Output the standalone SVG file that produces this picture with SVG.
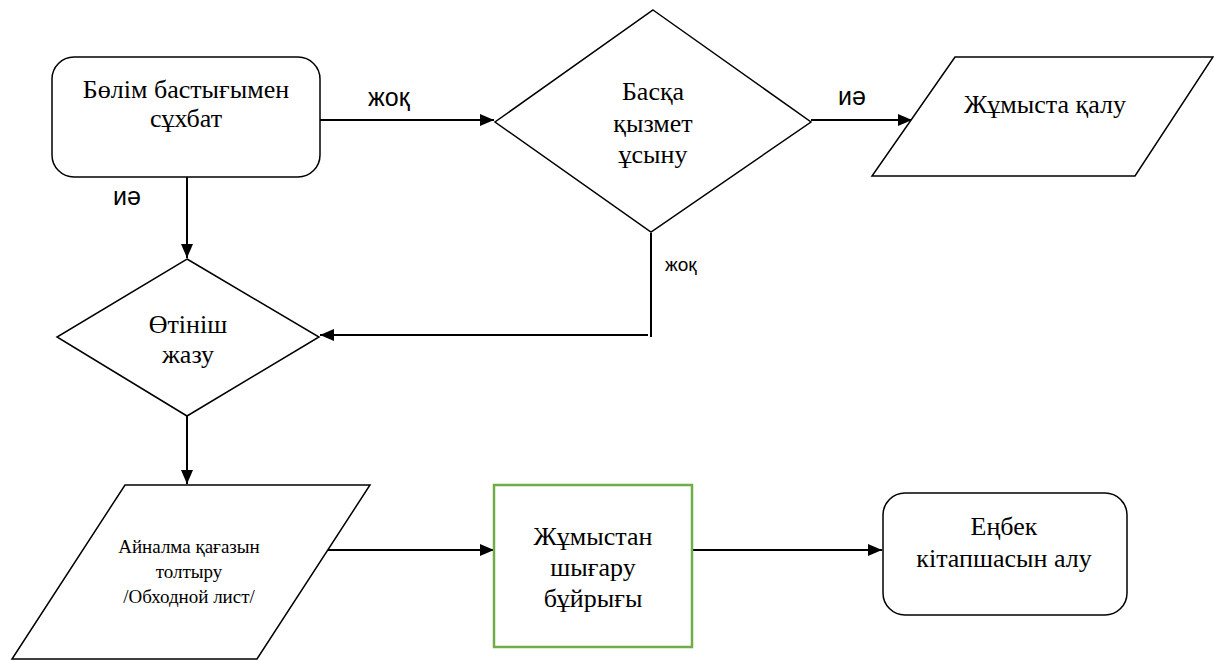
<svg xmlns="http://www.w3.org/2000/svg" width="1214" height="660" viewBox="0 0 1214 660">
<defs>
<marker id="ah" viewBox="0 0 14 12" refX="14" refY="6" markerWidth="14" markerHeight="12" markerUnits="userSpaceOnUse" orient="auto">
<path d="M0,0 L14,6 L0,12 Z" fill="#000"/>
</marker>
</defs>
<style>
.shape{fill:#fff;stroke:#000;stroke-width:1.5}
.green{fill:#fff;stroke:#70AD47;stroke-width:2.5}
.t{font-family:'Liberation Serif','DejaVu Serif','Noto Serif',serif;font-size:26px;fill:#000;text-anchor:middle}
.ts{font-family:'Liberation Serif','DejaVu Serif','Noto Serif',serif;font-size:19px;fill:#000;text-anchor:middle}
.lbl{font-family:'Liberation Sans',Arial,sans-serif;font-size:25px;fill:#000}
.lbl2{font-family:'Liberation Sans',Arial,sans-serif;font-size:19px;fill:#000}
.c{fill:none;stroke:#000;stroke-width:2}
</style>
<rect width="1214" height="660" fill="#fff"/>
<g id="connectors">
<line class="c" x1="320" y1="120" x2="494" y2="120" marker-end="url(#ah)"/>
<line class="c" x1="811" y1="120" x2="912" y2="120" marker-end="url(#ah)"/>
<line class="c" x1="187" y1="177" x2="187" y2="258" marker-end="url(#ah)"/>
<polyline class="c" points="651,233 651,337"/>
<line class="c" x1="648" y1="335" x2="320" y2="335" marker-end="url(#ah)"/>
<line class="c" x1="187" y1="416" x2="187" y2="484" marker-end="url(#ah)"/>
<line class="c" x1="320" y1="550" x2="494" y2="550" marker-end="url(#ah)"/>
<line class="c" x1="692" y1="550" x2="882" y2="550" marker-end="url(#ah)"/>
<text class="lbl" x="368" y="106">жоқ</text>
<text class="lbl" x="838" y="105">иә</text>
<text class="lbl" x="113" y="205">иә</text>
<text class="lbl2" x="665" y="271">жоқ</text>
</g>
<g id="n1">
<rect class="shape" x="52" y="57" width="268" height="120" rx="22"/>
<text class="t" x="186" y="98">Бөлім бастығымен</text>
<text class="t" x="186" y="127">сұхбат</text>
</g>
<g id="n2">
<polygon class="shape" points="653,10 811,122 651,232 495,122"/>
<text class="t" x="653" y="100">Басқа</text>
<text class="t" x="653" y="132">қызмет</text>
<text class="t" x="653" y="163">ұсыну</text>
</g>
<g id="n3">
<polygon class="shape" points="955,57 1213,57 1135,176 872,176"/>
<text class="t" x="1045" y="113">Жұмыста қалу</text>
</g>
<g id="n4">
<polygon class="shape" points="187,259 319,337 187,416 57,337"/>
<text class="t" x="188" y="333">Өтініш</text>
<text class="t" x="188" y="363">жазу</text>
</g>
<g id="n5">
<polygon class="shape" points="125,485 370,485 257,659 12,659"/>
<text class="ts" x="189" y="553">Айналма қағазын</text>
<text class="ts" x="189" y="578">толтыру</text>
<text class="ts" x="189" y="603">/Обходной лист/</text>
</g>
<g id="n6">
<rect class="green" x="494" y="485" width="198" height="162"/>
<text class="t" x="593" y="545">Жұмыстан</text>
<text class="t" x="593" y="576">шығару</text>
<text class="t" x="593" y="607">бұйрығы</text>
</g>
<g id="n7">
<rect class="shape" x="883" y="493" width="244" height="122" rx="22"/>
<text class="t" x="1004" y="535">Еңбек</text>
<text class="t" x="1004" y="567">кітапшасын алу</text>
</g>
</svg>
